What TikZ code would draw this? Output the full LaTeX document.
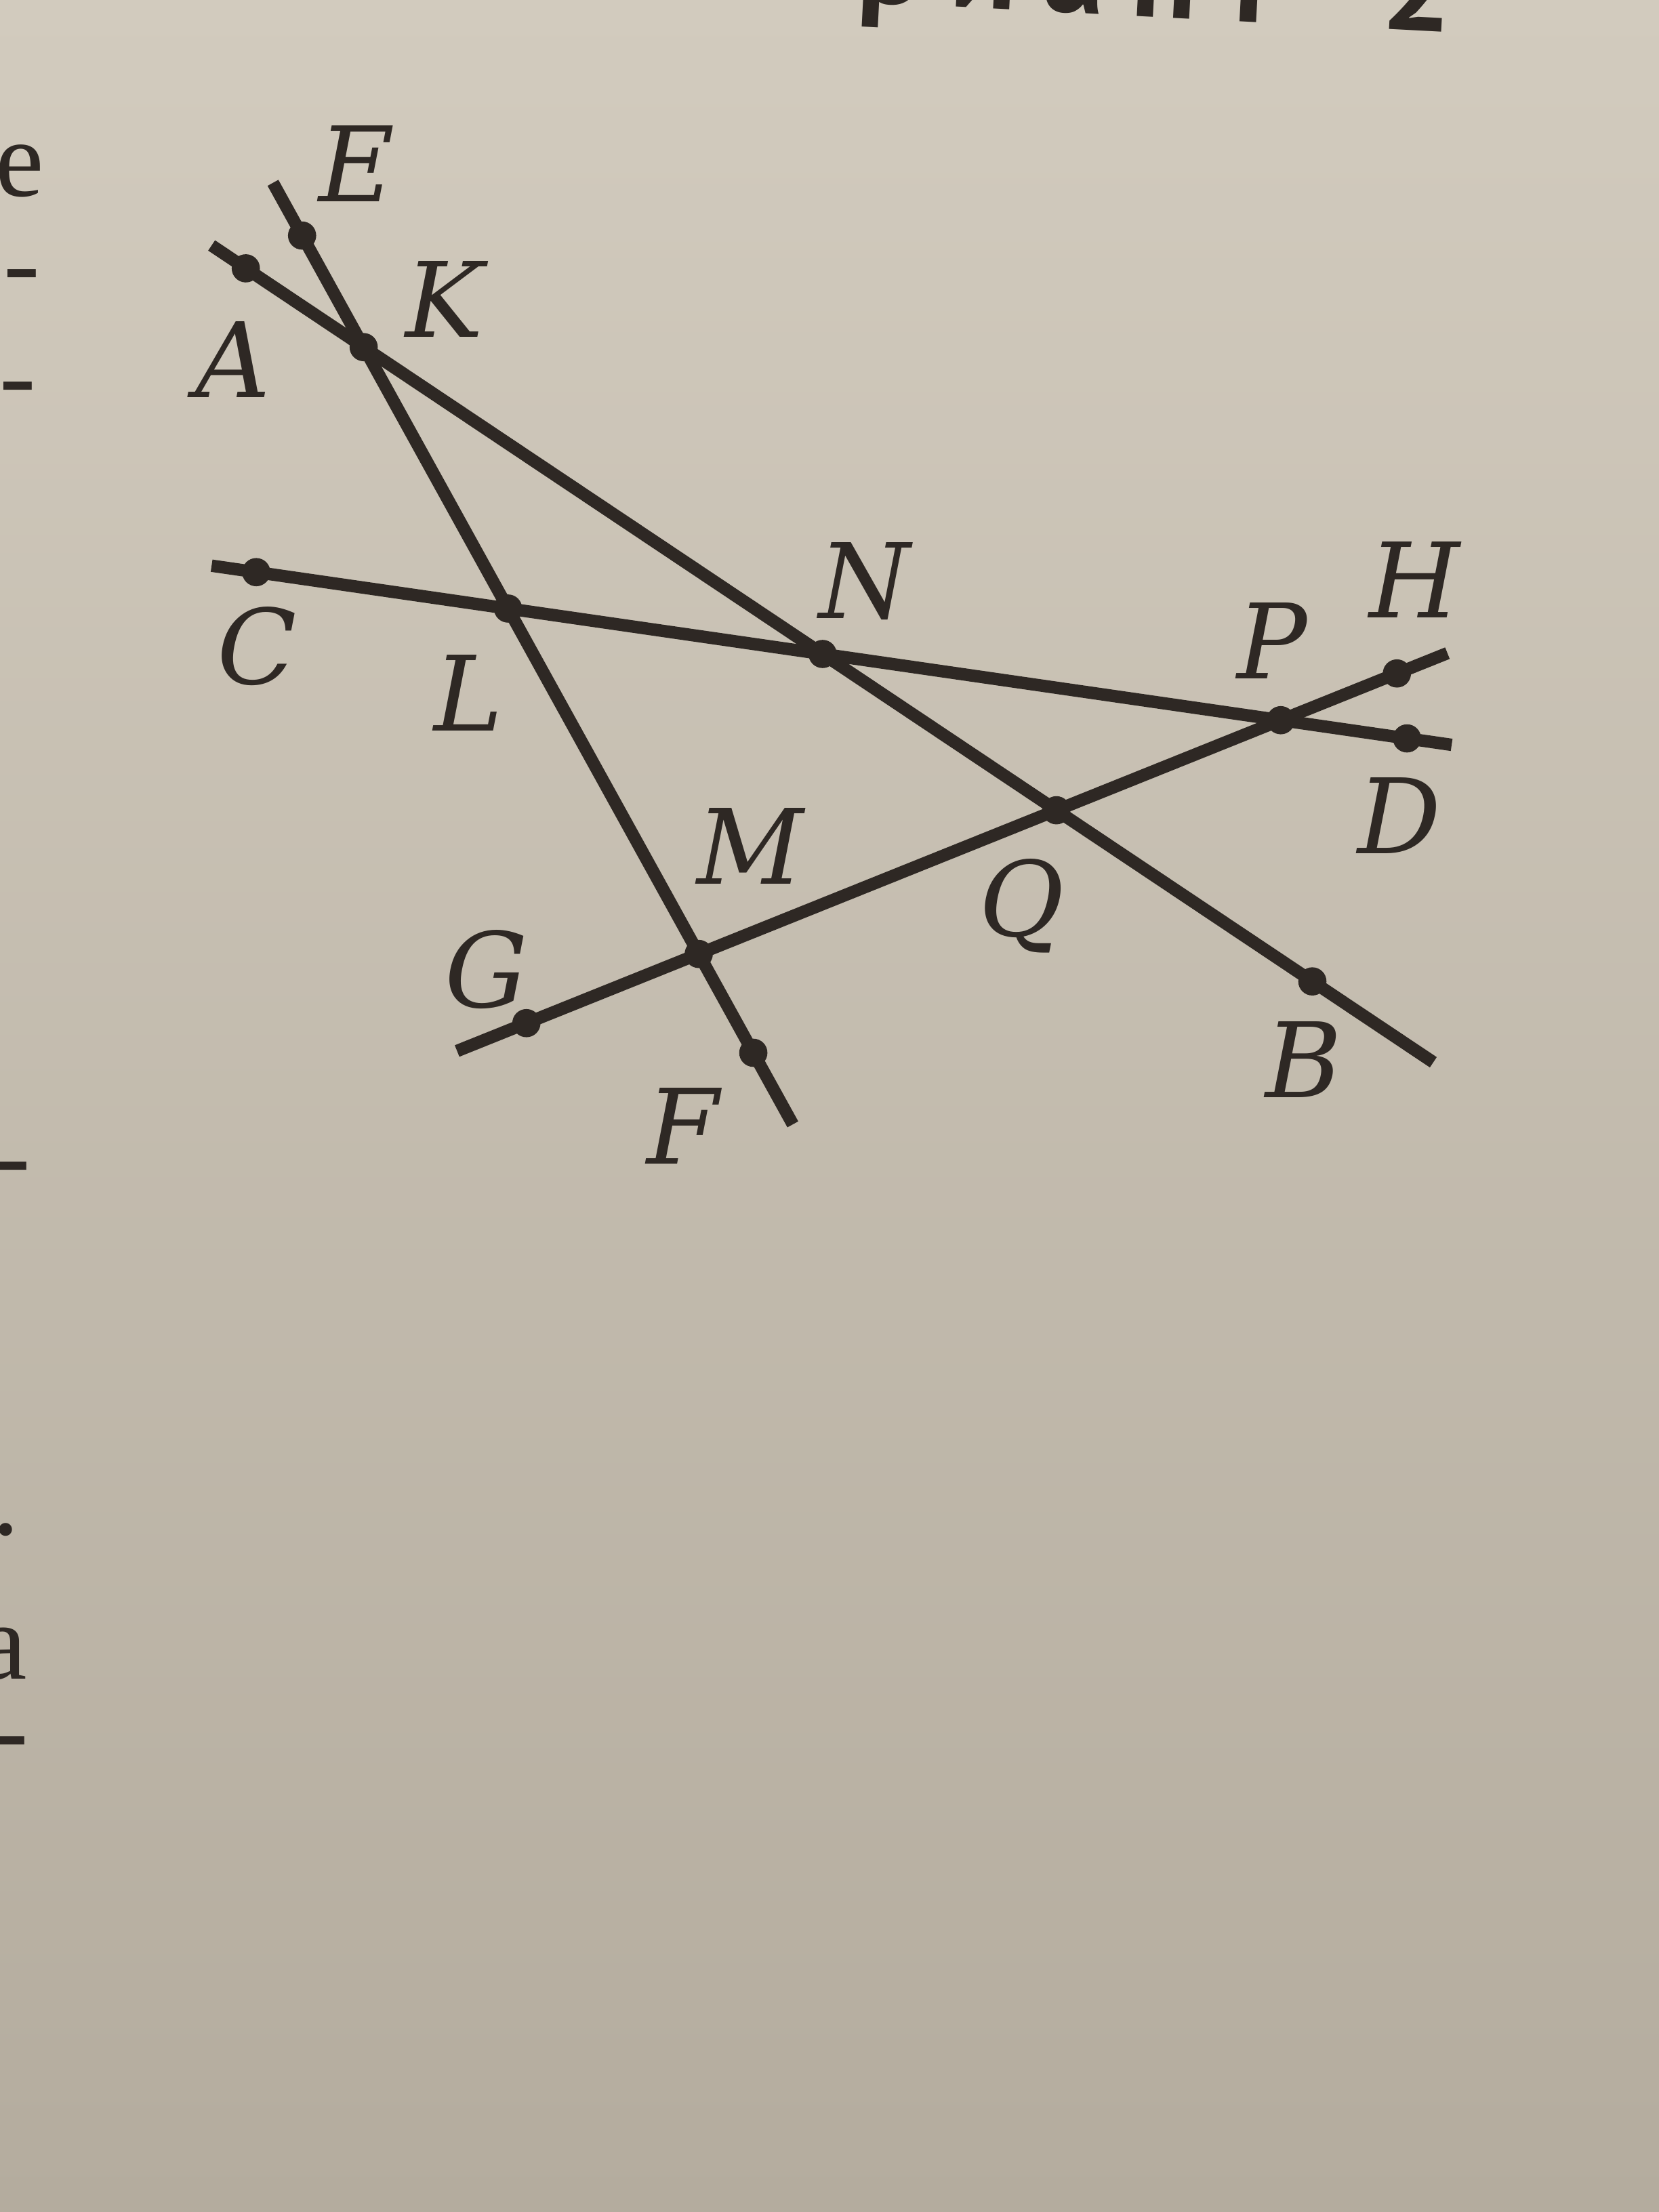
\documentclass[tikz,border=0pt]{standalone}
\usepackage{fontspec}
\usetikzlibrary{calc}
\newfontfamily\headfont{PT Sans}[LetterSpace=21]
\newfontfamily\bodyfont{Liberation Serif}
\newfontfamily\lblfont{DejaVu Serif}
\definecolor{ink}{RGB}{46,40,36}
\definecolor{papertop}{RGB}{210,203,190}
\definecolor{paperbot}{RGB}{180,172,158}

\begin{document}
\begin{tikzpicture}[y=-1cm,
  every node/.style={inner sep=0pt, text=ink},
  pointdot/.style={circle, fill=ink, minimum size=0.2cm},
  lbl/.style={font=\lblfont\itshape\fontsize{21}{25}\selectfont},
  margin/.style={anchor=base west, font=\bodyfont\fontsize{22}{26}\selectfont},
  ln/.style={ink, line width=2.5pt}]
\clip (0,0) rectangle (11.76,15.68);
\fill[top color=papertop, bottom color=paperbot] (0,0) rectangle (11.76,15.68);
% page heading, cut by the photo
\node[anchor=base west, rotate=-3, font=\headfont\fontsize{25}{29}\selectfont\bfseries] (title) at (4.74,-0.06) {Вариант\hspace{0.86em}2};
% ends of the neighbouring column
\node[margin] (m1) at (-0.04,1.39) {е};
\node[margin] (m2) at (0.02,2.12) {-};
\node[margin] (m3) at (-0.01,2.92) {-};
\node[margin] (m4) at (-0.05,8.45) {-};
\node[margin] (m5) at (-0.06,10.88) {.};
\node[margin] (m6) at (-0.16,11.90) {а};
\node[margin] (m7) at (-0.06,12.52) {-};
% the four lines
\coordinate (a1) at (1.50,1.74);
\coordinate (a2) at (10.16,7.53);
\coordinate (e1) at (1.935,1.296);
\coordinate (e2) at (5.62,7.97);
\coordinate (c1) at (1.50,4.01);
\coordinate (c2) at (10.29,5.28);
\coordinate (g1) at (3.24,7.45);
\coordinate (g2) at (10.26,4.63);
\draw[ln] (a1) -- (a2);
\draw[ln] (e1) -- (e2);
\draw[ln] (c1) -- (c2);
\draw[ln] (g1) -- (g2);
% points on the lines
\node[pointdot] (A) at ($(a1)!0.028!(a2)$) {};
\node[pointdot] (B) at ($(a1)!0.901!(a2)$) {};
\node[pointdot] (E) at ($(e1)!0.056!(e2)$) {};
\node[pointdot] (F) at ($(e1)!0.924!(e2)$) {};
\node[pointdot] (C) at ($(c1)!0.036!(c2)$) {};
\node[pointdot] (D) at ($(c1)!0.964!(c2)$) {};
\node[pointdot] (G) at ($(g1)!0.070!(g2)$) {};
\node[pointdot] (H) at ($(g1)!0.949!(g2)$) {};
\node[pointdot] (K) at (intersection of a1--a2 and e1--e2) {};
\node[pointdot] (L) at (intersection of c1--c2 and e1--e2) {};
\node[pointdot] (M) at (intersection of g1--g2 and e1--e2) {};
\node[pointdot] (N) at (intersection of a1--a2 and c1--c2) {};
\node[pointdot] (P) at (intersection of c1--c2 and g1--g2) {};
\node[pointdot] (Q) at (intersection of a1--a2 and g1--g2) {};
% letters
\node[lbl] (lA) at (1.65,2.55) {A};
\node[lbl] (lB) at (9.24,7.51) {B};
\node[lbl] (lC) at (1.82,4.58) {C};
\node[lbl] (lD) at (9.92,5.78) {D};
\node[lbl] (lE) at (2.53,1.16) {E};
\node[lbl] (lF) at (4.84,7.98) {F};
\node[lbl] (lG) at (3.45,6.87) {G};
\node[lbl] (lH) at (10.03,4.11) {H};
\node[lbl] (lK) at (3.15,2.12) {K};
\node[lbl] (lL) at (3.32,4.91) {L};
\node[lbl] (lM) at (5.32,6.00) {M};
\node[lbl] (lN) at (6.13,4.12) {N};
\node[lbl] (lP) at (9.02,4.54) {P};
\node[lbl] (lQ) at (7.24,6.42) {Q};
\end{tikzpicture}
\end{document}
